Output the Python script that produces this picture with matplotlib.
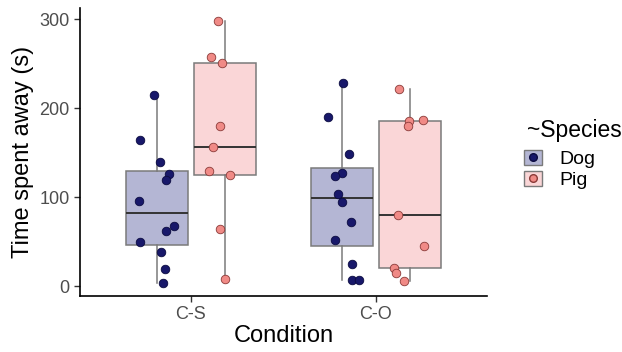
import matplotlib.pyplot as plt
from matplotlib.patches import Patch
from matplotlib.lines import Line2D

conditions = ["C-S", "C-O"]
species = ["Dog", "Pig"]

dog_cs = [214.5, 163.8, 139.0, 126.3, 119.5, 95.8, 67.6, 62.4, 49.3, 38.3, 19.2, 3.7]
pig_cs = [297.6, 257.4, 251.0, 179.6, 156.7, 128.9, 124.4, 64.3, 7.9]
dog_co = [227.7, 189.8, 148.0, 127.0, 124.0, 103.7, 94.3, 72.2, 51.9, 24.8, 7.5, 6.8]
pig_co = [222.0, 185.2, 187.1, 179.6, 80.0, 45.5, 20.0, 14.3, 5.3]

# horizontal jitter (pixels)
jit_dog_cs = [-3, -17, 3, 12, 9, -18, 17, 9, -17, 4, 8, 6]
jit_pig_cs = [-7, -14, -3, -5, -12, -16, 5, -5, 0]
jit_dog_co = [1, -14, 7, 0, -7, -4, 0, 9, -7, 10, 10, 17]
jit_pig_co = [-11, -1, 13, -2, -12, 14, -16, -14, -6]

fills = {"Dog": "#b4b6d4", "Pig": "#fad6d7"}
dots = {"Dog": "#18186a", "Pig": "#f08a86"}
edges = {"Dog": "#0b0b40", "Pig": "#8a3a38"}

plt.rcParams["font.family"] = ["Liberation Sans", "DejaVu Sans"]

fig = plt.figure(figsize=(6.22, 3.52), dpi=100)
ax = fig.add_axes([80 / 622, 1 - 296 / 352, 407 / 622, 288 / 352])

px = 185.0  # pixels per category unit
dodge = 0.186
width = 0.335

groups = [
    (0, "Dog", dog_cs, jit_dog_cs),
    (0, "Pig", pig_cs, jit_pig_cs),
    (1, "Dog", dog_co, jit_dog_co),
    (1, "Pig", pig_co, jit_pig_co),
]

for ci, sp, vals, jit in groups:
    pos = ci + (-dodge if sp == "Dog" else dodge)
    ax.boxplot([vals], positions=[pos], widths=width, patch_artist=True,
               showfliers=False, whis=1.5,
               boxprops=dict(facecolor=fills[sp], edgecolor="#7a7a7a", linewidth=1.1),
               whiskerprops=dict(color="#7a7a7a", linewidth=1.1),
               capprops=dict(linewidth=0),
               medianprops=dict(color="#333333", linewidth=1.4))
    xs = [pos + j / px for j in jit]
    ax.scatter(xs, vals, s=38, color=dots[sp], edgecolors=edges[sp],
               linewidths=0.6, zorder=5)

ax.set_xlim(-0.6, 1.6)
ax.set_ylim(-11, 312.5)
ax.set_xticks([0, 1])
ax.set_xticklabels(conditions)
ax.set_yticks([0, 100, 200, 300])
for s in ["top", "right"]:
    ax.spines[s].set_visible(False)
for s in ["left", "bottom"]:
    ax.spines[s].set_linewidth(1.2)
ax.tick_params(axis="both", colors="#333333", labelcolor="#4d4d4d",
               labelsize=13, length=4, width=1)
ax.set_xlabel("Condition", fontsize=17, labelpad=1)
ax.set_ylabel("Time spent away (s)", fontsize=17, labelpad=4)

# legend title placed separately so it sits above the keys like ggplot
fig.text(527 / 622, 1 - 131 / 352, "~Species", fontsize=16.5, va="center", ha="left")
handles = []
for sp in species:
    handles.append((Patch(facecolor=fills[sp], edgecolor="#7a7a7a"),
                    Line2D([], [], marker="o", linestyle="", markersize=5.5,
                           markerfacecolor=dots[sp], markeredgecolor=edges[sp])))
fig.legend(handles, species, loc="upper left",
           bbox_to_anchor=(524 / 622, 1 - 150 / 352), frameon=False, fontsize=14,
           handlelength=0.9, handleheight=0.8, handletextpad=0.9,
           labelspacing=0.15, borderpad=0, borderaxespad=0)

fig.savefig("out.png", dpi=100)
